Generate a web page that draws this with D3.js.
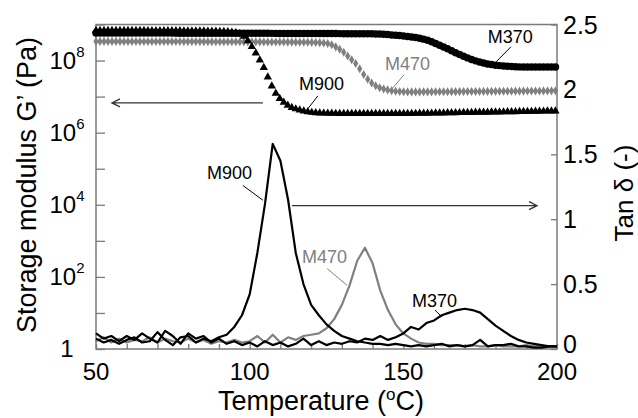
<!DOCTYPE html>
<html>
<head>
<meta charset="utf-8">
<script src="https://cdnjs.cloudflare.com/ajax/libs/d3/7.8.5/d3.min.js"></script>
<style>
   body { margin: 0; background: #fff; }
   svg { font-family: Arial, "Liberation Sans", sans-serif; }
</style>
</head>
<body>
<svg id="chart" width="638" height="418"></svg>
<script>
// tan delta, read every 2.5 oC from 50 to 200
var tanTemps = d3.range(50, 200.1, 2.5);
var tanM900 = [
   0.08, 0.05, 0.07, 0.04, 0.07, 0.09, 0.05, 0.06, 0.13, 0.07,
   0.03, 0.09, 0.1, 0.05, 0.08, 0.06, 0.09, 0.11, 0.17, 0.26,
   0.42, 0.74, 1.12, 1.58, 1.45, 1.15, 0.74, 0.5, 0.34, 0.26,
   0.19, 0.14, 0.1, 0.08, 0.06, 0.05, 0.04, 0.04, 0.03, 0.04,
   0.03, 0.02, 0.03, 0.02, 0.03, 0.04, 0.02, 0.03, 0.02, 0.03,
   0.07, 0.02, 0.03, 0.03, 0.04, 0.02, 0.02, 0.01, 0.01, 0.02,
   0.02,
];
var tanM470 = [
   0.06, 0.09, 0.05, 0.08, 0.05, 0.07, 0.06, 0.09, 0.05, 0.08,
   0.06, 0.05, 0.08, 0.05, 0.07, 0.04, 0.06, 0.05, 0.07, 0.05,
   0.06, 0.1, 0.05, 0.11, 0.05, 0.09, 0.07, 0.1, 0.11, 0.12,
   0.16, 0.23, 0.34, 0.49, 0.68, 0.78, 0.66, 0.45, 0.3, 0.19,
   0.12, 0.08, 0.05, 0.04, 0.04, 0.03, 0.03, 0.03, 0.02, 0.03,
   0.02, 0.02, 0.03, 0.02, 0.02, 0.02, 0.03, 0.02, 0.02, 0.02,
   0.02,
];
var tanM370 = [
   0.12, 0.08, 0.1, 0.06, 0.1, 0.07, 0.12, 0.08, 0.05, 0.14,
   0.1, 0.04, 0.12, 0.08, 0.1, 0.05, 0.08, 0.04, 0.06, 0.03,
   0.05, 0.02, 0.06, 0.03, 0.05, 0.02, 0.04, 0.08, 0.03, 0.06,
   0.03, 0.05, 0.04, 0.06, 0.05, 0.08, 0.07, 0.1, 0.07, 0.09,
   0.12, 0.17, 0.15, 0.2, 0.22, 0.26, 0.28, 0.3, 0.31, 0.3,
   0.28, 0.23, 0.18, 0.14, 0.1, 0.07, 0.05, 0.04, 0.03, 0.02,
   0.02,
];

// storage modulus G' (Pa), key points along each curve
var gM900Temps = [50, 60, 70, 80, 90, 95, 98, 100, 101, 103.4, 105, 106.6, 108.9, 111.5, 116.4, 122.9, 130, 150, 170, 200];
var gM900 = [6.8e8, 6.8e8, 6.7e8, 6.6e8, 6.4e8, 6.0e8, 4.8e8, 3.0e8, 2.2e8, 1.0e8, 5.4e7, 2.5e7, 1.1e7, 6.5e6, 4.2e6, 3.5e6, 3.4e6, 3.4e6, 3.6e6, 4.0e6];
var gM470Temps = [50, 100, 120, 125.2, 128, 130.4, 132.7, 134.9, 137, 139.2, 141.5, 144.7, 148, 152, 170, 200];
var gM470 = [3.4e8, 3.3e8, 3.2e8, 3.0e8, 2.4e8, 1.75e8, 1.15e8, 7.6e7, 4.2e7, 2.6e7, 1.9e7, 1.55e7, 1.4e7, 1.35e7, 1.38e7, 1.45e7];
var gM370Temps = [50, 100, 140, 146.7, 152, 157.7, 163, 168.5, 174, 179.2, 185, 190, 200];
var gM370 = [5.8e8, 5.7e8, 5.5e8, 5.1e8, 4.6e8, 3.7e8, 2.4e8, 1.45e8, 9.5e7, 7.6e7, 6.9e7, 6.6e7, 6.6e7];

var xTickLabels = [50, 100, 150, 200];
var gExponents = [0, 2, 4, 6, 8];
var tanTickLabels = [0, 0.5, 1, 1.5, 2, 2.5];

var black = "#000",
   gray = "#808080",
   axisGray = "#7a7a7a";

var svg = d3.select("svg#chart");

var x = d3.scaleLinear().domain([50, 200]).range([96, 557]);
var yG = d3.scaleLog().domain([1, 1e9]).range([349, 24.5]);
var yTan = d3.scaleLinear().domain([0, 2.5]).range([349, 24.5]);

// frame
svg.append("rect")
   .attr("x", x(50)).attr("y", yG(1e9))
   .attr("width", x(200) - x(50)).attr("height", yG(1) - yG(1e9))
   .attr("fill", "none").attr("stroke", axisGray).attr("stroke-width", 1.5);

// ticks, all pointing inwards
function styleAxis(g) {
   g.select(".domain").remove();
   g.selectAll(".tick line").attr("stroke", axisGray).attr("stroke-width", 1.3);
}
svg.append("g").attr("transform", "translate(0," + yG(1) + ")")
   .call(d3.axisTop(x).tickValues(d3.range(50, 201, 10)).tickSize(5).tickFormat(""))
   .call(styleAxis);
svg.append("g").attr("transform", "translate(" + x(50) + ",0)")
   .call(d3.axisRight(yG).tickValues(d3.range(0, 10).map((e) => Math.pow(10, e))).tickSize(9).tickFormat(""))
   .call(styleAxis);
svg.append("g").attr("transform", "translate(" + x(200) + ",0)")
   .call(d3.axisLeft(yTan).tickValues(tanTickLabels).tickSize(6).tickFormat(""))
   .call(styleAxis);

// tick labels
svg.selectAll("text.xlab").data(xTickLabels).enter().append("text")
   .attr("class", "xlab")
   .attr("x", (d) => x(d)).attr("y", yG(1) + 31)
   .attr("text-anchor", "middle").attr("font-size", 24)
   .text((d) => d);

var gLab = svg.selectAll("text.glab").data(gExponents).enter().append("text")
   .attr("class", "glab")
   .attr("x", 67).attr("y", (d) => yG(Math.pow(10, d)) + 8)
   .attr("text-anchor", "middle").attr("font-size", 24);
gLab.each(function (d) {
   var t = d3.select(this);
   if (d === 0) {
      t.text("1");
   } else {
      t.append("tspan").text("10");
      t.append("tspan").attr("font-size", 15).attr("dy", -12).text(d);
   }
});

svg.selectAll("text.tlab").data(tanTickLabels).enter().append("text")
   .attr("class", "tlab")
   .attr("x", x(200) + 6).attr("y", (d) => yTan(d) + (d === 0 ? 4 : 9))
   .attr("font-size", 25)
   .text((d) => String(d));

// axis titles
var xTitle = svg.append("text")
   .attr("x", 321).attr("y", 410)
   .attr("text-anchor", "middle").attr("font-size", 27);
xTitle.append("tspan").text("Temperature (");
xTitle.append("tspan").attr("font-size", 17).attr("dy", -10).text("o");
xTitle.append("tspan").attr("dy", 10).text("C)");

svg.append("text")
   .attr("transform", "translate(36,185) rotate(-90)")
   .attr("text-anchor", "middle").attr("font-size", 27)
   .text("Storage modulus G\u2019 (Pa)");

svg.append("text")
   .attr("transform", "translate(633,193) rotate(-90)")
   .attr("text-anchor", "middle").attr("font-size", 26)
   .text("Tan \u03b4 (-)");

// tan delta lines
var tanLine = d3.line()
   .x((d) => x(d[0]))
   .y((d) => yTan(d[1]));

[
   { values: tanM470, color: gray },
   { values: tanM370, color: black },
   { values: tanM900, color: black },
].forEach(function (s) {
   svg.append("path")
      .datum(tanTemps.map((t, i) => [t, s.values[i]]))
      .attr("d", tanLine)
      .attr("fill", "none").attr("stroke", s.color)
      .attr("stroke-width", 2.2).attr("stroke-linejoin", "round");
});

// G' curves: markers at even temperature steps along a smooth curve through the key points
var gLine = d3.line()
   .x((d) => x(d[0]))
   .y((d) => yG(d[1]))
   .curve(d3.curveMonotoneX);

var markerTemps = d3.range(50, 200.01, 1.3);

function pointsOnPath(node, temps) {
   var total = node.getTotalLength();
   return temps.map(function (t) {
      var px = x(t), lo = 0, hi = total;
      for (var i = 0; i < 24; i++) {
         var mid = (lo + hi) / 2;
         if (node.getPointAtLength(mid).x < px) lo = mid;
         else hi = mid;
      }
      return [px, node.getPointAtLength(hi).y];
   });
}

[
   { temps: gM470Temps, values: gM470, color: gray, symbol: d3.symbolDiamond, size: 24 },
   { temps: gM370Temps, values: gM370, color: black, symbol: d3.symbolCircle, size: 44 },
   { temps: gM900Temps, values: gM900, color: black, symbol: d3.symbolTriangle, size: 30 },
].forEach(function (s) {
   var guide = svg.append("path")
      .datum(s.temps.map((t, i) => [t, s.values[i]]))
      .attr("d", gLine)
      .attr("fill", "none").attr("stroke", "none");
   var pts = pointsOnPath(guide.node(), markerTemps);
   svg.append("g").selectAll("path").data(pts).enter().append("path")
      .attr("transform", (d) => "translate(" + d[0] + "," + d[1] + ")")
      .attr("d", d3.symbol().type(s.symbol).size(s.size))
      .attr("fill", s.color);
});

// curve labels with leader lines (positions in data units)
var gNotes = [
   { name: "M900", color: black, at: [116.05, 1.54e7], from: [122.2, 1.05e7], to: [118.66, 4.3e6] },
   { name: "M470", color: gray, at: [144.0, 5.5e7], from: [150.2, 4.0e7], to: [146.6, 1.75e7] },
   { name: "M370", color: black, at: [177.5, 3.1e8], from: [185.0, 2.4e8], to: [180.2, 9.2e7] },
];
var tanNotes = [
   { name: "M900", color: black, at: [86.1, 1.31], from: [97.8, 1.26], to: [104.3, 1.146] },
   { name: "M470", color: gray, at: [117.0, 0.66], from: [125.2, 0.62], to: [131.7, 0.49] },
   { name: "M370", color: black, at: [152.8, 0.32], from: [160.3, 0.3], to: [162.6, 0.246] },
];

function drawNotes(notes, yScale) {
   notes.forEach(function (n) {
      svg.append("line")
         .attr("x1", x(n.from[0])).attr("y1", yScale(n.from[1]))
         .attr("x2", x(n.to[0])).attr("y2", yScale(n.to[1]))
         .attr("stroke", n.color).attr("stroke-width", 1);
      svg.append("text")
         .attr("x", x(n.at[0])).attr("y", yScale(n.at[1]))
         .attr("font-size", 18).attr("fill", n.color)
         .text(n.name);
   });
}
drawNotes(gNotes, yG);
drawNotes(tanNotes, yTan);

// arrows pointing to the axis each group belongs to
function arrow(t0, t1, py) {
   var x0 = x(t0), x1 = x(t1), dir = x1 > x0 ? -1 : 1;
   svg.append("path")
      .attr("d", "M" + x0 + "," + py + "H" + x1 +
         "M" + (x1 + dir * 8) + "," + (py - 4) + "L" + x1 + "," + py + "L" + (x1 + dir * 8) + "," + (py + 4))
      .attr("fill", "none").attr("stroke", "#333").attr("stroke-width", 1.3);
}
arrow(104.3, 55.2, yG(6.7e6));
arrow(113.8, 193.5, yTan(1.104));
</script>
</body>
</html>
